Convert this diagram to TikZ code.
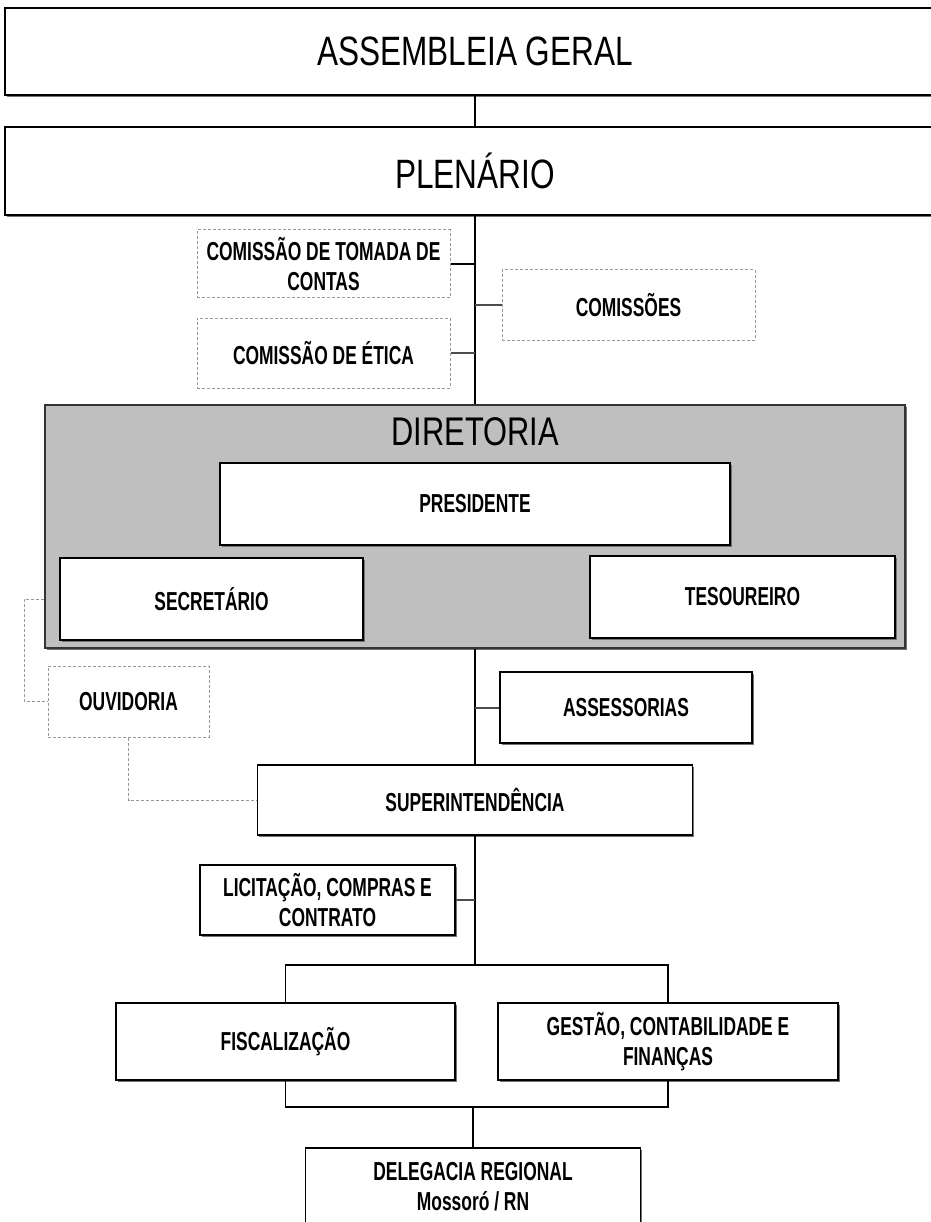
\documentclass[tikz,border=0pt]{standalone}
\usepackage{fontspec}
\setmainfont{Liberation Sans}
\newfontfamily\narrowfont{Liberation Sans}[FakeStretch=0.77]
\newfontfamily\boxfont{Liberation Sans}[FakeStretch=0.67]
\usetikzlibrary{shadows}
\tikzset{
  shad/.style={drop shadow={shadow xshift=1.5pt, shadow yshift=-2pt, fill=black!55, opacity=1}},
  sbox/.style={draw=black, line width=1.6pt, fill=white, align=center, inner sep=0pt,
    font=\boxfont\bfseries\fontsize{26}{30}\selectfont, shad},
  dbox/.style={draw=black!40, densely dashed, line width=1pt, fill=white, align=center, inner sep=0pt,
    font=\boxfont\bfseries\fontsize{26}{30}\selectfont},
  bigbox/.style={draw=black, line width=1.6pt, fill=white, inner sep=0pt,
    font=\narrowfont\fontsize{41}{46}\selectfont, shad},
  dirbox/.style={draw=black!80, line width=1.6pt, fill=black!25, inner sep=0pt, shad},
  titletext/.style={font=\narrowfont\fontsize{40}{46}\selectfont, inner sep=0pt},
  spine/.style={line width=1.6pt, black},
  stub/.style={line width=2pt, black!70},
  dcon/.style={draw=black!40, densely dashed, line width=1pt}
}
\begin{document}
\begin{tikzpicture}[x=1pt, y=-1pt]
\useasboundingbox (0,0) rectangle (930,1222);
% top boxes
\node[bigbox, minimum width=940, minimum height=87] (asm) at (475,51.5) {ASSEMBLEIA GERAL};
\node[bigbox, minimum width=940, minimum height=88] (plen) at (475,171) {PLENÁRIO};
% commissions
\node[dbox, minimum width=253, minimum height=68] (ctc) at (323.5,264) {COMISSÃO DE TOMADA DE\\CONTAS};
\node[dbox, minimum width=253, minimum height=70] (com) at (628.5,305) {COMISSÕES};
\node[dbox, minimum width=253, minimum height=70] (cet) at (323.5,353) {COMISSÃO DE ÉTICA};
% diretoria
\node[dirbox, minimum width=860, minimum height=243] (dir) at (475,526.5) {};
\node[titletext] (dirt) at (475,432) {DIRETORIA};
\node[sbox, minimum width=510, minimum height=82] (pres) at (475,504) {PRESIDENTE};
\node[sbox, minimum width=303, minimum height=82] (sec) at (211.5,599) {SECRETÁRIO};
\node[sbox, minimum width=305, minimum height=82] (tes) at (742.5,597) {TESOUREIRO};
% lower
\node[dbox, minimum width=161, minimum height=71] (ouv) at (128.5,701.5) {OUVIDORIA};
\node[sbox, minimum width=252, minimum height=71] (ass) at (626,707.5) {ASSESSORIAS};
\node[sbox, minimum width=435, minimum height=70] (sup) at (475,800) {SUPERINTENDÊNCIA};
\node[sbox, minimum width=255, minimum height=70] (lic) at (327.5,900) {LICITAÇÃO, COMPRAS E\\CONTRATO};
\node[sbox, minimum width=339, minimum height=77] (fis) at (285.5,1041.5) {FISCALIZAÇÃO};
\node[sbox, minimum width=340, minimum height=77] (ges) at (668,1041.5) {GESTÃO, CONTABILIDADE E\\FINANÇAS};
\node[sbox, minimum width=335, minimum height=78] (del) at (473,1187) {DELEGACIA REGIONAL\\Mossoró / RN};
% coordinates
\coordinate (br) at (475,965);
\coordinate (bj) at (473,1107);
% connectors
\draw[spine] (asm.south) -- (plen.north);
\draw[spine] (plen.south) -- (dir.north);
\draw[spine] (ctc.east) -- (ctc.east -| plen.south);
\draw[stub] (com.west) -- (com.west -| plen.south);
\draw[stub] (cet.east) -- (cet.east -| plen.south);
\draw[spine] (dir.south) -- (sup.north);
\draw[stub] (ass.west) -- (ass.west -| sup.north);
\draw[spine] (sup.south) -- (br);
\draw[stub] (lic.east) -- (lic.east -| sup.south);
\draw[spine] (fis.north) |- (br) -| (ges.north);
\draw[spine] (fis.south) |- (bj) -| (ges.south);
\draw[spine] (bj) -- (del.north);
% dashed connectors
\draw[dcon] (dir.west |- sec.center) -- ++(-20,0) |- (ouv.west);
\draw[dcon] (ouv.south) |- (sup.west);
\end{tikzpicture}
\end{document}
